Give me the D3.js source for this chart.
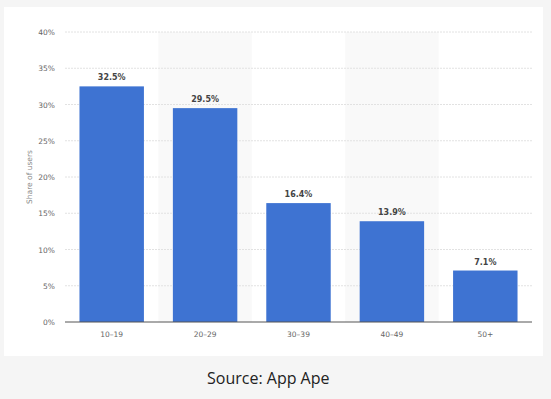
<!DOCTYPE html>
<html>
<head>
<meta charset="utf-8">
<script src="https://cdn.jsdelivr.net/npm/d3@7"></script>
<style>
  body { margin: 0; background: #f5f5f5; }
  svg { display: block; }
</style>
</head>
<body>
<div id="chart"></div>
<script>
// Age groups and share of users (%)
const categories = ['10-19', '20-29', '30-39', '40-49', '50+'];
const shares = [32.5, 29.5, 16.4, 13.9, 7.1];
const yTicks = [0, 5, 10, 15, 20, 25, 30, 35, 40];
const sourceText = 'Source: App Ape';

const width = 551, height = 399;
const plot = {left: 65, right: 532, top: 32, bottom: 322};

let svg = d3.select('#chart').append('svg')
  .attr('width', width)
  .attr('height', height);

// page background + white card
svg.append('rect')
  .attr('width', width).attr('height', height)
  .attr('fill', '#f5f5f5');
svg.append('rect')
  .attr('x', 4).attr('y', 7)
  .attr('width', 539).attr('height', 349)
  .attr('fill', '#ffffff');

let x = d3.scaleBand()
  .domain(categories)
  .range([plot.left, plot.right])
  .paddingInner(0.31)
  .paddingOuter(0.155);

let y = d3.scaleLinear()
  .domain([0, 40])
  .range([plot.bottom, plot.top]);

// alternating shaded bands
let step = (plot.right - plot.left) / categories.length;
svg.append('g')
  .selectAll('rect')
  .data(categories.filter((d, i) => i % 2 === 1))
  .enter().append('rect')
  .attr('x', d => plot.left + categories.indexOf(d) * step)
  .attr('y', plot.top)
  .attr('width', step)
  .attr('height', plot.bottom - plot.top)
  .attr('fill', '#f9f9f9');

// gridlines
svg.append('g')
  .selectAll('line')
  .data(yTicks.filter(d => d > 0))
  .enter().append('line')
  .attr('x1', plot.left).attr('x2', plot.right)
  .attr('y1', d => y(d)).attr('y2', d => y(d))
  .attr('stroke', '#e2e2e2')
  .attr('stroke-dasharray', '2,1');

// y tick labels
svg.append('g')
  .selectAll('text')
  .data(yTicks)
  .enter().append('text')
  .attr('x', 55)
  .attr('y', d => y(d) + 3)
  .attr('text-anchor', 'end')
  .attr('font-family', 'DejaVu Sans, sans-serif')
  .attr('font-size', 7.5)
  .attr('fill', '#666')
  .text(d => d + '%');

// y axis title
svg.append('text')
  .attr('transform', 'translate(32,' + ((plot.top + plot.bottom) / 2) + ') rotate(-90)')
  .attr('text-anchor', 'middle')
  .attr('font-family', 'DejaVu Sans, sans-serif')
  .attr('font-size', 7.5)
  .attr('fill', '#888')
  .text('Share of users');

// bars
svg.append('g')
  .selectAll('rect')
  .data(shares)
  .enter().append('rect')
  .attr('x', (d, i) => x(categories[i]))
  .attr('y', d => y(d))
  .attr('width', x.bandwidth())
  .attr('height', d => y(0) - y(d))
  .attr('fill', '#3e73d2');

// value labels
svg.append('g')
  .selectAll('text')
  .data(shares)
  .enter().append('text')
  .attr('x', (d, i) => x(categories[i]) + x.bandwidth() / 2)
  .attr('y', d => y(d) - 6)
  .attr('text-anchor', 'middle')
  .attr('font-family', 'DejaVu Sans, sans-serif')
  .attr('font-size', 8)
  .attr('font-weight', 'bold')
  .attr('fill', '#444')
  .text(d => d.toFixed(1) + '%');

// baseline
svg.append('line')
  .attr('x1', plot.left).attr('x2', plot.right)
  .attr('y1', y(0)).attr('y2', y(0))
  .attr('stroke', '#555')
  .attr('stroke-width', 1);

// category labels
svg.append('g')
  .selectAll('text')
  .data(categories)
  .enter().append('text')
  .attr('x', d => x(d) + x.bandwidth() / 2)
  .attr('y', 337)
  .attr('text-anchor', 'middle')
  .attr('font-family', 'DejaVu Sans, sans-serif')
  .attr('font-size', 7.5)
  .attr('fill', '#666')
  .text(d => d.replace('-', '\u2013'));

// source
svg.append('text')
  .attr('x', 207)
  .attr('y', 384)
  .attr('font-family', 'Open Sans, sans-serif')
  .attr('font-size', 16)
  .attr('fill', '#222')
  .text(sourceText);
</script>
</body>
</html>
